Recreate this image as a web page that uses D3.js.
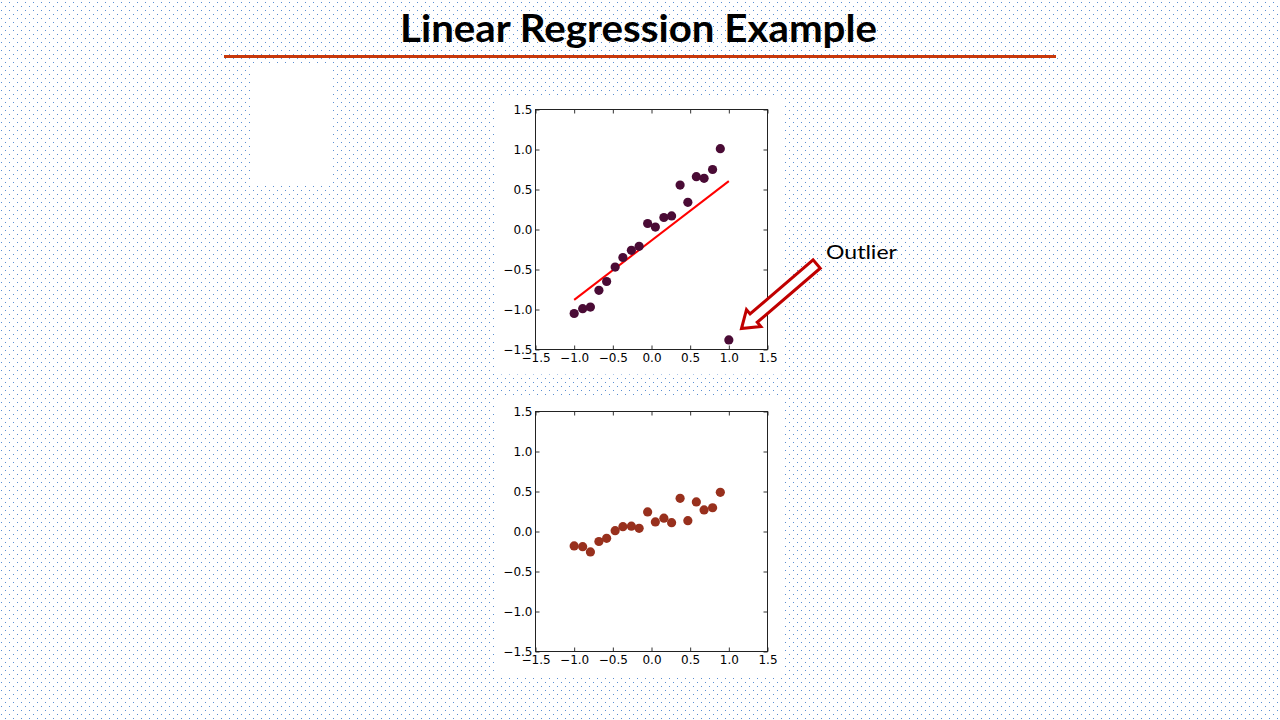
<!DOCTYPE html>
<html>
<head>
<meta charset="utf-8">
<script src="https://cdn.jsdelivr.net/npm/d3@7"></script>
<style>
  body { margin: 0; background: #fff; }
  svg { display: block; }
</style>
</head>
<body>
<svg id="slide"></svg>
<script>
// Values
const xValues = [-1.0, -0.89, -0.79, -0.68, -0.58, -0.47, -0.37, -0.26, -0.16, -0.05,
                 0.05, 0.16, 0.26, 0.37, 0.47, 0.58, 0.68, 0.79, 0.89, 1.0];
const yWithOutlier = [-1.05, -0.99, -0.97, -0.76, -0.65, -0.47, -0.35, -0.26, -0.21, 0.075,
                      0.03, 0.15, 0.17, 0.555, 0.34, 0.66, 0.64, 0.75, 1.01, -1.38];
const xClean = xValues.slice(0, 19);
const yClean = [-0.18, -0.19, -0.255, -0.125, -0.085, 0.01, 0.06, 0.067, 0.04, 0.245,
                0.12, 0.167, 0.11, 0.415, 0.135, 0.37, 0.27, 0.297, 0.49];
const fitX = [-1.0, 1.0];
const fitY = [-0.88, 0.605];
const tickValues = [-1.5, -1.0, -0.5, 0.0, 0.5, 1.0, 1.5];

const svg = d3.select("#slide")
    .attr("width", 1280)
    .attr("height", 720);

// Dotted slide background
const defs = svg.append("defs");
const pat = defs.append("pattern")
    .attr("id", "dots")
    .attr("width", 8)
    .attr("height", 8)
    .attr("patternUnits", "userSpaceOnUse");
pat.append("rect").attr("x", 1).attr("y", 2).attr("width", 1).attr("height", 1).attr("fill", "#5b8fd2");
pat.append("rect").attr("x", 5).attr("y", 6).attr("width", 1).attr("height", 1).attr("fill", "#5b8fd2");

svg.append("rect").attr("width", 1280).attr("height", 720).attr("fill", "#fff");
svg.append("rect").attr("width", 1280).attr("height", 720).attr("fill", "url(#dots)");

// Title and rule
svg.append("text")
    .attr("x", 638.5)
    .attr("y", 42)
    .attr("text-anchor", "middle")
    .attr("font-family", "'Comic Sans MS', Lato, sans-serif")
    .attr("font-weight", "bold")
    .attr("font-size", 38)
    .attr("textLength", 477)
    .attr("lengthAdjust", "spacingAndGlyphs")
    .text("Linear Regression Example");

svg.append("rect")
    .attr("x", 224).attr("y", 55)
    .attr("width", 832).attr("height", 3)
    .attr("fill", "#c8380a");

// blank box left over on the slide
svg.append("rect")
    .attr("x", 253).attr("y", 65)
    .attr("width", 78).attr("height", 120)
    .attr("fill", "#fff");

function drawPanel(top, xs, ys, color, line) {
    // white figure area
    svg.append("rect")
        .attr("x", 495).attr("y", top - 14)
        .attr("width", 288).attr("height", 279)
        .attr("fill", "#fff");

    const x = d3.scaleLinear().domain([-1.5, 1.5]).range([535.5, 767.5]);
    const y = d3.scaleLinear().domain([-1.5, 1.5]).range([top + 240, top]);
    const fmt = d3.format(".1f");

    const g = svg.append("g");

    if (line) {
        g.append("path")
            .datum(d3.zip(line[0], line[1]))
            .attr("fill", "none")
            .attr("stroke", "#ff0000")
            .attr("stroke-width", 2)
            .attr("d", d3.line().x(d => x(d[0])).y(d => y(d[1])));
    }

    g.selectAll(".dot")
        .data(d3.zip(xs, ys))
        .enter().append("circle")
        .attr("class", "dot")
        .attr("cx", d => x(d[0]))
        .attr("cy", d => y(d[1]))
        .attr("r", 4.6)
        .attr("fill", color);

    // axes with inward ticks on all four sides
    const styleAxis = sel => {
        sel.selectAll(".domain").remove();
        sel.selectAll(".tick line").attr("stroke", "#333");
        sel.selectAll("text")
            .attr("font-family", "'DejaVu Sans', sans-serif")
            .attr("font-size", 12)
            .attr("fill", "#000");
    };

    g.append("g")
        .attr("transform", `translate(0,${top + 240})`)
        .call(d3.axisBottom(x).tickValues(tickValues).tickFormat(fmt).tickSize(-4).tickPadding(4))
        .call(styleAxis);
    g.append("g")
        .attr("transform", `translate(0,${top})`)
        .call(d3.axisTop(x).tickValues(tickValues).tickFormat("").tickSize(-4))
        .call(styleAxis);
    g.append("g")
        .attr("transform", "translate(535.5,0)")
        .call(d3.axisLeft(y).tickValues(tickValues).tickFormat(fmt).tickSize(-4).tickPadding(3))
        .call(styleAxis);
    g.append("g")
        .attr("transform", "translate(767.5,0)")
        .call(d3.axisRight(y).tickValues(tickValues).tickFormat("").tickSize(-4))
        .call(styleAxis);

    g.append("rect")
        .attr("x", 535.5).attr("y", top)
        .attr("width", 232).attr("height", 240)
        .attr("fill", "none")
        .attr("stroke", "#222")
        .attr("stroke-width", 1);
}

drawPanel(109.5, xValues, yWithOutlier, "#4a0b35", [fitX, fitY]);
drawPanel(411.5, xClean, yClean, "#98301d", null);

// Outlier callout
const arrowLen = 99, headLen = 16, headHalf = 11, shaftHalf = 5.5;
svg.append("path")
    .attr("transform", "translate(741.5,328.5) rotate(-40.6)")
    .attr("d", `M0,0 L${headLen},${-headHalf} L${headLen},${-shaftHalf} L${arrowLen},${-shaftHalf}
                L${arrowLen},${shaftHalf} L${headLen},${shaftHalf} L${headLen},${headHalf} Z`)
    .attr("fill", "#fff")
    .attr("stroke", "#c00000")
    .attr("stroke-width", 3)
    .attr("stroke-linejoin", "miter");

svg.append("text")
    .attr("x", 826)
    .attr("y", 259)
    .attr("font-family", "'Comic Sans MS', Lato, sans-serif")
    .attr("font-size", 20)
    .attr("textLength", 71)
    .attr("lengthAdjust", "spacingAndGlyphs")
    .attr("fill", "#000")
    .text("Outlier");
</script>
</body>
</html>
